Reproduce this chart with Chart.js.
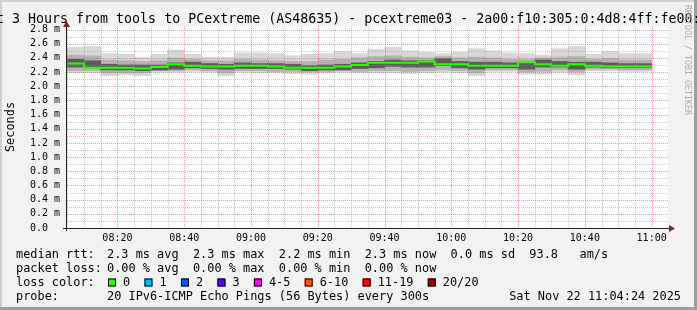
<!DOCTYPE html>
<html lang="en">
<head>
<meta charset="UTF-8">
<title>SmokePing - pcextreme03</title>
<script src="https://cdn.jsdelivr.net/npm/chart.js"></script>
<style>
  html, body { margin: 0; padding: 0; background: #f2f2f2; }
  canvas { display: block; }
</style>
</head>
<body>
<canvas id="smoke" width="697" height="310"></canvas>
<script>
// bins are 5 minutes wide, times in minutes after 08:00 (bin start)
const binMinutes = 5;
const binStart = [5, 10, 15, 20, 25, 30, 35, 40, 45, 50, 55, 60, 65, 70, 75, 80, 85, 90,
                  95, 100, 105, 110, 115, 120, 125, 130, 135, 140, 145, 150, 155, 160, 165, 170, 175];

// median rtt, ms
const median = [2.32, 2.32, 2.26, 2.26, 2.26, 2.25, 2.27, 2.31, 2.29, 2.28, 2.28, 2.29, 2.29, 2.28, 2.26, 2.26, 2.26, 2.28,
                2.30, 2.33, 2.33, 2.33, 2.35, 2.31, 2.31, 2.29, 2.29, 2.29, 2.34, 2.31, 2.29, 2.31, 2.29, 2.28, 2.28];

// smoke: full range of the 20 pings
const smokeMax = [2.55, 2.56, 2.46, 2.45, 2.41, 2.45, 2.51, 2.45, 2.41, 2.41, 2.47, 2.47, 2.46, 2.43, 2.45, 2.46, 2.49, 2.46,
                  2.52, 2.55, 2.50, 2.48, 2.46, 2.48, 2.53, 2.50, 2.47, 2.46, 2.44, 2.53, 2.56, 2.45, 2.49, 2.46, 2.46];
const smokeMin = [2.19, 2.19, 2.15, 2.16, 2.15, 2.20, 2.20, 2.21, 2.20, 2.15, 2.20, 2.19, 2.19, 2.18, 2.17, 2.19, 2.20, 2.19,
                  2.19, 2.19, 2.18, 2.19, 2.20, 2.19, 2.15, 2.21, 2.21, 2.17, 2.17, 2.20, 2.16, 2.22, 2.22, 2.21, 2.21];
// smoke: middle pings
const smokeHi = [2.44, 2.43, 2.37, 2.36, 2.35, 2.36, 2.40, 2.38, 2.36, 2.36, 2.38, 2.37, 2.36, 2.35, 2.35, 2.37, 2.38, 2.40,
                 2.42, 2.43, 2.41, 2.40, 2.42, 2.40, 2.41, 2.40, 2.38, 2.38, 2.40, 2.41, 2.42, 2.38, 2.39, 2.37, 2.37];
const smokeLo = [2.22, 2.22, 2.19, 2.19, 2.19, 2.22, 2.22, 2.23, 2.22, 2.19, 2.22, 2.22, 2.21, 2.21, 2.20, 2.21, 2.22, 2.21,
                 2.22, 2.22, 2.21, 2.22, 2.23, 2.22, 2.19, 2.23, 2.23, 2.20, 2.21, 2.23, 2.20, 2.24, 2.24, 2.23, 2.23];
// smoke: core around the median
const coreHi = [2.38, 2.36, 2.31, 2.30, 2.30, 2.30, 2.33, 2.34, 2.32, 2.31, 2.33, 2.32, 2.32, 2.31, 2.29, 2.30, 2.31, 2.33,
                2.35, 2.37, 2.36, 2.36, 2.39, 2.35, 2.34, 2.34, 2.33, 2.33, 2.37, 2.35, 2.34, 2.34, 2.33, 2.32, 2.32];
const coreLo = [2.27, 2.26, 2.23, 2.23, 2.22, 2.23, 2.24, 2.26, 2.25, 2.24, 2.25, 2.25, 2.25, 2.24, 2.22, 2.23, 2.23, 2.25,
                2.26, 2.28, 2.27, 2.27, 2.29, 2.26, 2.24, 2.26, 2.26, 2.24, 2.27, 2.27, 2.24, 2.27, 2.26, 2.26, 2.26];

const xTicks = [20, 40, 60, 80, 100, 120, 140, 160, 180];
const xTickLabels = ['08:20', '08:40', '09:00', '09:20', '09:40', '10:00', '10:20', '10:40', '11:00'];
const yTicks = [0, 0.2, 0.4, 0.6, 0.8, 1.0, 1.2, 1.4, 1.6, 1.8, 2.0, 2.2, 2.4, 2.6, 2.8];
const yTickLabels = ['0.0  ', '0.2 m', '0.4 m', '0.6 m', '0.8 m', '1.0 m', '1.2 m', '1.4 m', '1.6 m', '1.8 m',
                     '2.0 m', '2.2 m', '2.4 m', '2.6 m', '2.8 m'];

const lossLabels = ['0', '1', '2', '3', '4-5', '6-10', '11-19', '20/20'];
const lossColors = ['#26ff00', '#00b8ff', '#0059ff', '#5e00ff', '#ff00ff', '#ff5500', '#ff0000', '#a10000'];

const titleText = 'Last 3 Hours from tools to PCextreme (AS48635) - pcextreme03 - 2a00:f10:305:0:4d8:4ff:fe00:';
const legendRows = [
  ['median rtt:', '2.3 ms avg  2.3 ms max  2.2 ms min  2.3 ms now  0.0 ms sd  93.8   am/s'],
  ['packet loss:', '0.00 % avg  0.00 % max  0.00 % min  0.00 % now'],
  ['loss color:', null],
  ['probe:', '20 IPv6-ICMP Echo Pings (56 Bytes) every 300s']
];
const stampText = 'Sat Nov 22 11:04:24 2025';

const MONO = '"DejaVu Sans Mono", "Liberation Mono", monospace';

function band(lo, hi) {
  return binStart.map((t, i) => ({ x: t + binMinutes / 2, y: [lo[i], hi[i]] }));
}
const medianLine = binStart.map((t, i) => ({ x: t, y: median[i] }));
medianLine.push({ x: binStart[binStart.length - 1] + binMinutes, y: median[median.length - 1] });

function smokeSet(data, color) {
  return { type: 'bar', data: data, backgroundColor: color, borderWidth: 0, grouped: false,
           categoryPercentage: 1, barPercentage: 1 };
}

const rrdLook = {
  id: 'rrdLook',
  beforeDraw(chart) {
    const c = chart.ctx, w = chart.width, h = chart.height;
    c.save();
    c.fillStyle = '#f2f2f2';
    c.fillRect(0, 0, w, h);
    c.fillStyle = '#cfcfcf';
    c.fillRect(0, 0, w, 2);
    c.fillRect(0, 0, 2, h);
    c.fillStyle = '#9e9e9e';
    c.fillRect(0, h - 3, w, 3);
    c.fillRect(w - 3, 0, 3, h);
    c.restore();
  },
  beforeDatasetsDraw(chart) {
    const a = chart.chartArea, c = chart.ctx;
    c.save();
    c.fillStyle = '#ffffff';
    c.fillRect(a.left, a.top, a.right - a.left, a.bottom - a.top);
    c.restore();
  },
  afterDatasetDraw(chart, args) {
    if (args.index !== 1) return;
    // grid goes over the smoke but under the median line
    const a = chart.chartArea, c = chart.ctx;
    const xs = chart.scales.x, ys = chart.scales.y;
    c.save();
    c.lineWidth = 1;
    c.setLineDash([1, 1]);
    function hline(v, col) {
      const y = Math.round(ys.getPixelForValue(v)) + 0.5;
      if (y < a.top) return;
      c.strokeStyle = col;
      c.beginPath(); c.moveTo(a.left, y); c.lineTo(a.right, y); c.stroke();
    }
    function vline(v, col) {
      const x = Math.round(xs.getPixelForValue(v)) + 0.5;
      if (x < a.left || x > a.right) return;
      c.strokeStyle = col;
      c.beginPath(); c.moveTo(x, a.top); c.lineTo(x, a.bottom); c.stroke();
    }
    const minor = 'rgba(143,143,143,0.45)', major = 'rgba(222,79,79,0.55)';
    for (let m = 5; m < 185; m += 5) if (m % 20) vline(m, minor);
    for (let v = 1; v < 29; v += 2) hline(v / 10, minor);
    xTicks.forEach(m => vline(m, major));
    yTicks.forEach(v => { if (v > 0) hline(v, major); });
    c.restore();
  },
  afterDraw(chart) {
    const a = chart.chartArea, c = chart.ctx;
    c.save();
    // axes and arrows
    const ax = '#1f1f1f', arrow = '#801f1f';
    const yx = a.left - 0.5, xy = a.bottom + 0.5;
    c.strokeStyle = ax; c.lineWidth = 1;
    c.beginPath(); c.moveTo(a.left - 4, xy); c.lineTo(a.right + 2, xy); c.stroke();
    c.beginPath(); c.moveTo(yx, a.bottom + 3); c.lineTo(yx, a.top - 2); c.stroke();
    c.fillStyle = arrow;
    c.beginPath(); c.moveTo(a.right + 7, xy); c.lineTo(a.right + 1, xy - 3.5); c.lineTo(a.right + 1, xy + 3.5); c.closePath(); c.fill();
    c.beginPath(); c.moveTo(yx, a.top - 5); c.lineTo(yx - 3.5, a.top + 1); c.lineTo(yx + 3.5, a.top + 1); c.closePath(); c.fill();

    // title
    c.fillStyle = '#000';
    c.font = '13.3px ' + MONO;
    c.textBaseline = 'alphabetic';
    c.textAlign = 'left';
    c.fillText(titleText, -28, 23);

    // y axis title
    c.font = '11.9px ' + MONO;
    c.save();
    c.translate(14, (a.top + a.bottom) / 2);
    c.rotate(-Math.PI / 2);
    c.textAlign = 'center';
    c.textBaseline = 'alphabetic';
    c.fillText('Seconds', 0, 0);
    c.restore();

    // watermark
    c.save();
    c.fillStyle = '#ababab';
    c.font = '8.3px ' + MONO;
    c.translate(685, 5);
    c.rotate(Math.PI / 2);
    c.textAlign = 'left';
    c.textBaseline = 'alphabetic';
    c.fillText('RRDTOOL / TOBI OETIKER', 0, 0);
    c.restore();

    // legend
    c.font = '11.9px ' + MONO;
    c.textBaseline = 'middle';
    legendRows.forEach((row, r) => {
      const y = 254.5 + r * 14;
      c.fillStyle = '#000';
      c.fillText(row[0], 16, y);
      if (row[1]) c.fillText(row[1], 107, y);
      if (r === 2) {
        let bx = 108;
        lossLabels.forEach((lab, i) => {
          c.fillStyle = lossColors[i];
          c.fillRect(bx, y - 4, 8, 8);
          c.strokeStyle = '#000';
          c.strokeRect(bx + 0.5, y - 3.5, 7, 7);
          c.fillStyle = '#000';
          c.fillText(lab, bx + 15, y);
          bx = bx + 15 + c.measureText(lab + '  ').width;
        });
      }
    });
    c.textAlign = 'right';
    c.fillText(stampText, 681, 254.5 + 3 * 14);
    c.restore();
  }
};

new Chart(document.getElementById('smoke'), {
  data: {
    datasets: [
      { type: 'line', data: medianLine, borderColor: '#26ff00', borderWidth: 2, stepped: 'after',
        pointRadius: 0, fill: false },
      smokeSet(band(coreLo, coreHi), '#5c5c5c'),
      smokeSet(band(smokeLo, smokeHi), '#b3b3b3'),
      smokeSet(band(smokeMin, smokeMax), '#d7d7d7')
    ]
  },
  options: {
    responsive: false,
    animation: false,
    events: [],
    layout: { padding: { left: 0, right: 29, top: 26, bottom: 0 } },
    plugins: { legend: { display: false }, tooltip: { enabled: false }, title: { display: false } },
    scales: {
      x: {
        type: 'linear', min: 4.9, max: 184.9, offset: false,
        grid: { display: false, drawTicks: false }, border: { display: false },
        afterBuildTicks: s => { s.ticks = xTicks.map(v => ({ value: v })); },
        afterFit: s => { s.height = 82; },
        ticks: { padding: 4, color: '#000', maxRotation: 0, autoSkip: false,
                 font: { family: MONO, size: 10 },
                 callback: (v, i) => xTickLabels[i] }
      },
      y: {
        type: 'linear', min: 0, max: 2.85,
        grid: { display: false, drawTicks: false }, border: { display: false },
        afterBuildTicks: s => { s.ticks = yTicks.map(v => ({ value: v })); },
        afterFit: s => { s.width = 67; },
        ticks: { padding: 7, color: '#000', autoSkip: false,
                 font: { family: MONO, size: 10 },
                 callback: (v, i) => yTickLabels[i] }
      }
    }
  },
  plugins: [rrdLook]
});
</script>
</body>
</html>
